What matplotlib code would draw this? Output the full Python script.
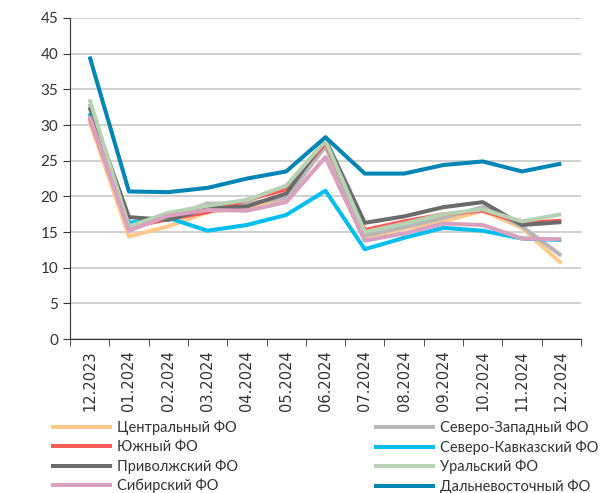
import matplotlib
matplotlib.use("Agg")
from matplotlib import pyplot as plt
import numpy as np

plt.rcParams['font.family'] = ['Lato', 'DejaVu Sans']

months = ['12.2023', '01.2024', '02.2024', '03.2024', '04.2024', '05.2024', '06.2024',
          '07.2024', '08.2024', '09.2024', '10.2024', '11.2024', '12.2024']

central = [30.6, 14.4, 15.8, 17.8, 18.5, 19.3, 25.5, 14.0, 15.5, 16.5, 18.0, 15.6, 10.6]
northwest = [33.0, 15.5, 17.0, 19.0, 19.0, 19.8, 27.0, 14.5, 15.7, 17.0, 18.5, 15.8, 11.7]
south = [31.0, 15.7, 16.8, 17.8, 19.5, 21.0, 27.5, 15.3, 16.5, 17.5, 18.0, 16.3, 16.6]
ncaucasus = [31.7, 16.3, 17.0, 15.2, 16.0, 17.4, 20.8, 12.6, 14.2, 15.6, 15.2, 14.1, 13.9]
volga = [32.5, 17.1, 16.7, 18.3, 18.6, 20.4, 28.0, 16.3, 17.2, 18.5, 19.2, 16.0, 16.4]
ural = [33.6, 15.8, 17.7, 18.7, 19.5, 21.5, 27.8, 15.0, 16.2, 17.5, 18.2, 16.5, 17.5]
siberia = [31.2, 15.2, 17.3, 18.1, 18.0, 19.2, 25.5, 13.8, 14.8, 16.2, 16.0, 14.1, 14.0]
fareast = [39.6, 20.7, 20.6, 21.2, 22.5, 23.5, 28.3, 23.2, 23.2, 24.4, 24.9, 23.5, 24.6]

series = [
    ('Центральный ФО', central, '#ffc98a'),
    ('Северо-Западный ФО', northwest, '#b7b7b7'),
    ('Южный ФО', south, '#ff5a5a'),
    ('Северо-Кавказский ФО', ncaucasus, '#00bfef'),
    ('Приволжский ФО', volga, '#6b6b6b'),
    ('Уральский ФО', ural, '#b5d3b3'),
    ('Сибирский ФО', siberia, '#d9a1c0'),
    ('Дальневосточный ФО', fareast, '#0085b5'),
]

fig = plt.figure(figsize=(6.03, 4.93), dpi=100)
ax = fig.add_axes([0.116, 0.312, 0.8475, 0.6515])

x = np.arange(len(months))
lines = {}
for name, vals, col in series:
    lines[name] = ax.plot(x, vals, color=col, lw=2.9, label=name, solid_capstyle='butt')[0]

ax.set_xlim(-0.5, len(months) - 0.5)
ax.set_ylim(0, 45)
ax.set_yticks(np.arange(0, 46, 5))
ax.set_xticks(x)
ax.set_xticklabels(months, rotation=90, fontsize=10.5, color='#333333', family=['DejaVu Sans'])
ax.set_xticks(np.arange(-0.5, len(months), 1), minor=True)
ax.tick_params(axis='x', which='major', length=0, pad=8)
ax.tick_params(axis='x', which='minor', length=5, color='#333333')
ax.tick_params(axis='y', length=5, labelsize=11, colors='#333333')
ax.yaxis.grid(True, color='#c8c8c8', lw=1.2)
ax.set_axisbelow(True)
for s in ['top', 'right']:
    ax.spines[s].set_visible(False)
ax.spines['left'].set_color('#333333')
ax.spines['bottom'].set_color('#333333')

# legend in two separate columns
left = ['Центральный ФО', 'Южный ФО', 'Приволжский ФО', 'Сибирский ФО']
right = ['Северо-Западный ФО', 'Северо-Кавказский ФО', 'Уральский ФО', 'Дальневосточный ФО']
kw = dict(frameon=False, loc='upper left', fontsize=10.5, handlelength=4.2,
          handletextpad=0.35, labelspacing=0.34, labelcolor='#333333', borderaxespad=0)
fig.legend([lines[n] for n in left], left, bbox_to_anchor=(0.075, 0.158), **kw)
fig.legend([lines[n] for n in right], right, bbox_to_anchor=(0.610, 0.158), **kw)

fig.savefig('out.png', dpi=100)
